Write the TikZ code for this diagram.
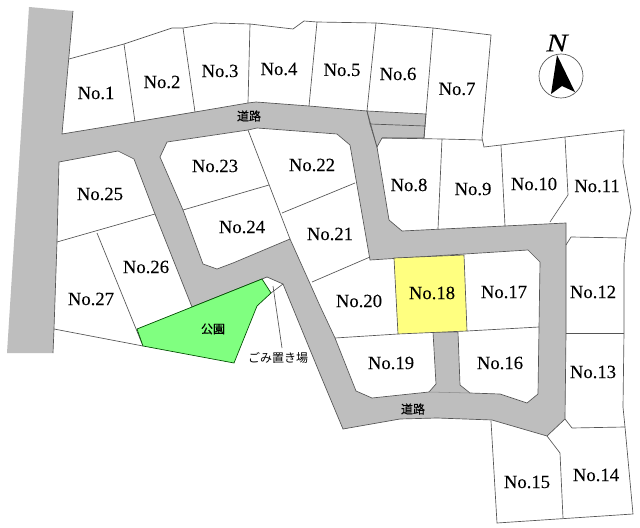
\documentclass[tikz,border=0pt]{standalone}
\usepackage{fontspec}
\setmainfont{Liberation Serif}[FakeBold=0.1]
\newfontfamily\jpfont{Noto Sans CJK JP}
\newfontfamily\jpheavy{Noto Sans CJK JP}[FakeBold=0.25]
\definecolor{roadgray}{RGB}{190,190,190}
\definecolor{lotline}{RGB}{85,85,85}
\definecolor{parkgreen}{RGB}{128,255,128}
\definecolor{lotyellow}{RGB}{255,255,128}
\tikzset{
	lot/.style={draw=lotline, line width=0.5pt},
	lotno/.style={font=\fontsize{14}{14}\selectfont, inner sep=0pt},
	jptext/.style={font=\fontsize{9}{9}\selectfont\jpheavy, inner sep=0pt, text=black}
}

\begin{document}
\begin{tikzpicture}[x=0.75pt, y=-0.75pt]
			%%%%% START %%%%%
			\useasboundingbox[fill=white] (0, 0) rectangle (640, 528);
			
			% roads
			\fill[roadgray] (29, 7) -- (73, 11) -- (62, 134) -- (135, 122) -- (195, 112) -- (248, 103) -- (256, 102) -- (309, 106) -- (367, 111) -- (370, 124) -- (377, 147) -- (389, 220) -- (402, 231) -- (566, 223) -- (566, 333) -- (565, 419) -- (547, 436) -- (492, 420) -- (437, 418) -- (400, 419) -- (343, 429) -- (320, 374) -- (283, 284) -- (267, 277) -- (192, 307) -- (155, 214) -- (134, 159) -- (118, 151) -- (59, 162) -- (57, 242) -- (54, 329) -- (53, 353) -- (7, 353) -- cycle;
			\draw[lot] (73, 11) -- (62, 134) -- (135, 122) -- (195, 112) -- (248, 103) -- (256, 102) -- (309, 106) -- (367, 111) -- (370, 124) -- (377, 147) -- (389, 220) -- (402, 231) -- (566, 223) -- (566, 333) -- (565, 419) -- (547, 436) -- (492, 420) -- (437, 418) -- (400, 419) -- (343, 429) -- (320, 374) -- (283, 284) -- (267, 277) -- (192, 307) -- (155, 214) -- (134, 159) -- (118, 151) -- (59, 162) -- (57, 242) -- (54, 329) -- (53, 353);
			\draw[lot, fill=roadgray] (367, 111) -- (426, 114) -- (424, 138) -- (382, 138) -- (377, 147) -- cycle;
			\draw[lot] (370, 124) -- (425, 126);
			
			% block inside the road loop
			\draw[lot, fill=white] (167, 142) -- (248, 130) -- (257, 128) -- (337, 134) -- (350, 145) -- (370, 260) -- (528, 250) -- (540, 262) -- (538, 394) -- (527, 403) -- (500, 394) -- (470, 393) -- (460, 385) -- (458, 332) -- (433, 332) -- (436, 384) -- (429, 392) -- (372, 398) -- (356, 391) -- (335, 338) -- (320, 306) -- (290, 239) -- (233, 263) -- (217, 269) -- (203, 264) -- (183, 210) -- (160, 157) -- cycle;
			\draw[draw=black!45, line width=0.4pt] (429, 392) -- (470, 393);
			
			% outer boundary, north side
			\draw[lot] (69, 59) -- (124, 44) -- (172, 28) -- (183, 28) -- (214, 23) -- (250, 24) -- (293, 29) -- (304, 21) -- (317, 22) -- (376, 23) -- (433, 28) -- (491, 35) -- (482, 138) -- (484, 147) -- (501, 145) -- (565, 137) -- (624, 130) -- (623, 163) -- (631, 210) -- (626, 238) -- (624, 264) -- (624, 332) -- (623, 407) -- (625, 427) -- (633, 514) -- (497, 523) -- (491, 421);
			
			% lots north of the road
			\draw[lot] (124, 44) -- (135, 122);
			\draw[lot] (183, 28) -- (195, 112);
			\draw[lot] (250, 24) -- (248, 103);
			\draw[lot] (317, 22) -- (309, 106);
			\draw[lot] (376, 23) -- (367, 111);
			\draw[lot] (433, 28) -- (424, 138);
			\draw[lot] (382, 138) -- (442, 139) -- (482, 140);
			\draw[lot] (442, 139) -- (438, 229);
			\draw[lot] (501, 145) -- (505, 226);
			\draw[lot] (565, 137) -- (568, 195) -- (550, 222);
			
			% lots east of the road
			\draw[lot] (566, 245) -- (571, 237) -- (626, 238);
			\draw[lot] (566, 333) -- (624, 333);
			\draw[lot] (565, 419) -- (572, 428) -- (625, 427);
			\draw[lot] (547, 436) -- (560, 453) -- (563, 518);
			
			% lots inside the loop
			\draw[lot] (183, 210) -- (269, 185);
			\draw[lot] (248, 130) -- (290, 239);
			\draw[lot] (282, 213) -- (355, 183);
			\draw[lot] (312, 282) -- (370, 257);
			\draw[lot] (335, 338) -- (398, 334);
			\draw[lot] (467, 331) -- (539, 327);
			\draw[lot, fill=lotyellow] (394, 258) -- (464, 255) -- (467, 331) -- (398, 334) -- cycle;
			
			% lots west of the road
			\draw[lot] (57, 242) -- (155, 214);
			\draw[lot] (97, 233) -- (143, 346);
			\draw[lot] (54, 329) -- (143, 346);
			
			% park and rubbish place
			\draw[draw=black!70!green, line width=0.5pt, fill=parkgreen] (137, 329) -- (262, 279) -- (271, 293) -- (257, 306) -- (234, 363) -- (143, 346) -- cycle;
			\draw[lot] (283, 284) -- (271, 293);
			\coordinate (binpoint) at (273, 286);
			\coordinate (binlabel) at (282, 348);
			\draw[lot] (binpoint) -- (binlabel);
			
			% north mark
			\draw[lot] (561, 76) circle (22);
			\fill[black] (557, 55) -- (575, 92) -- (562, 86) -- (551, 94) -- cycle;
			\node[font=\fontsize{19}{19}\selectfont\itshape, inner sep=0pt] (northmark) at (557, 43) {\scalebox{1.25}[1]{N}};
			
			% texts
			\node[lotno] (no1) at (96, 93) {No.1};
			\node[lotno] (no2) at (162, 82) {No.2};
			\node[lotno] (no3) at (220, 71) {No.3};
			\node[lotno] (no4) at (279, 69) {No.4};
			\node[lotno] (no5) at (342, 70) {No.5};
			\node[lotno] (no6) at (398, 74) {No.6};
			\node[lotno] (no7) at (457, 89) {No.7};
			\node[lotno] (no8) at (409, 185) {No.8};
			\node[lotno] (no9) at (473, 189) {No.9};
			\node[lotno] (no10) at (534, 184) {No.10};
			\node[lotno] (no11) at (597, 186) {No.11};
			\node[lotno] (no12) at (593, 292) {No.12};
			\node[lotno] (no13) at (593, 372) {No.13};
			\node[lotno] (no14) at (596, 475) {No.14};
			\node[lotno] (no15) at (527, 482) {No.15};
			\node[lotno] (no16) at (500, 363) {No.16};
			\node[lotno] (no17) at (504, 292) {No.17};
			\node[lotno] (no18) at (432, 293) {No.18};
			\node[lotno] (no19) at (391, 363) {No.19};
			\node[lotno] (no20) at (359, 301) {No.20};
			\node[lotno] (no21) at (330, 234) {No.21};
			\node[lotno] (no22) at (312, 165) {No.22};
			\node[lotno] (no23) at (215, 166) {No.23};
			\node[lotno] (no24) at (242, 227) {No.24};
			\node[lotno] (no25) at (100, 194) {No.25};
			\node[lotno] (no26) at (146, 267) {No.26};
			\node[lotno] (no27) at (91, 299) {No.27};
			
			\node[jptext] (road1) at (249, 116) {道路};
			\node[jptext] (road2) at (413, 409) {道路};
			\node[jptext] (park) at (213, 329) {公園};
			\node[jptext, font=\fontsize{9}{9}\selectfont\jpfont] (binplace) at (278, 358) {ごみ置き場};
			
			%%%%% END %%%%%
		\end{tikzpicture}
\end{document}
